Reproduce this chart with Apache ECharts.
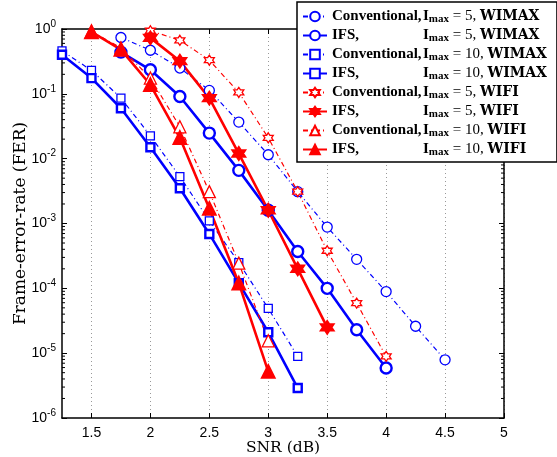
<!DOCTYPE html>
<html><head><meta charset="utf-8">
<script src="https://cdn.jsdelivr.net/npm/echarts@6/dist/echarts.min.js"></script>
<style>html,body{margin:0;padding:0;background:#fff}#c{width:557px;height:457px}</style>
</head><body><div id="c"></div>
<script>
// ---- data ----
const snrA = [1.75,2,2.25,2.5,2.75,3,3.25,3.5,3.75,4,4.25,4.5];
const convW5 = [0.74,0.47,0.25,0.113,0.0367,0.0115,0.0031,0.00088,0.00028,0.000089,0.000026,0.0000079];
const snrB = [1.75,2,2.25,2.5,2.75,3,3.25,3.5,3.75,4];
const ifsW5 = [0.44,0.235,0.091,0.0248,0.0066,0.0016,0.00037,0.0001,0.000023,0.0000059];
const snrC = [1.25,1.5,1.75,2,2.25,2.5,2.75,3,3.25];
const convW10 = [0.46,0.23,0.086,0.0225,0.0053,0.0011,0.00025,0.000049,0.0000089];
const ifsW10 = [0.40,0.175,0.06,0.015,0.0035,0.00069,0.00012,0.000021,0.0000029];
const snrD = [2,2.25,2.5,2.75,3,3.25,3.5,3.75,4];
const convF5 = [0.94,0.67,0.33,0.105,0.021,0.0031,0.00038,0.000059,0.0000089];
const snrE = [2,2.25,2.5,2.75,3,3.25,3.5];
const ifsF5 = [0.73,0.32,0.086,0.012,0.0016,0.0002,0.000025];
const snrF = [1.5,1.75,2,2.25,2.5,2.75,3];
const convF10 = [0.92,0.51,0.175,0.031,0.0031,0.000245,0.0000155];
const ifsF10 = [0.9,0.48,0.138,0.021,0.0017,0.00012,0.0000052];
const xTicks = [1.5,2,2.5,3,3.5,4,4.5,5];
const seriesNames = [
  'Conventional, Imax = 5, WIMAX','IFS, Imax = 5, WIMAX',
  'Conventional, Imax = 10, WIMAX','IFS, Imax = 10, WIMAX',
  'Conventional, Imax = 5, WIFI','IFS, Imax = 5, WIFI',
  'Conventional, Imax = 10, WIFI','IFS, Imax = 10, WIFI'];
const legendParts = [
  ['Conventional,','5','WIMAX'],['IFS,','5','WIMAX'],
  ['Conventional,','10','WIMAX'],['IFS,','10','WIMAX'],
  ['Conventional,','5','WIFI'],['IFS,','5','WIFI'],
  ['Conventional,','10','WIFI'],['IFS,','10','WIFI']];
const minorVals = [];
for (let e = -6; e < 0; e++) for (let k = 2; k <= 9; k++) minorVals.push(k * Math.pow(10, e));

// ---- styles ----
const BLUE = '#0000ff', RED = '#ff0000';
const HEX = 'path://M0,-10L2.89,-5L8.66,-5L5.77,0L8.66,5L2.89,5L0,10L-2.89,5L-8.66,5L-5.77,0L-8.66,-5L-2.89,-5Z';
const dashDot = [5,3,1,3];
function mk(name, xs, ys, color, conv, symbol, size, filled) {
  return {
    name, type: 'line', data: xs.map((x, i) => [x, ys[i]]),
    symbol, symbolSize: size, showSymbol: true,
    lineStyle: { color, width: conv ? 1.2 : 2.6, type: conv ? dashDot : 'solid' },
    itemStyle: { color: filled ? color : '#fff', borderColor: color, borderWidth: conv ? 1.3 : 2.4 },
    emphasis: { disabled: true }, z: 3
  };
}
const series = [
  mk(seriesNames[0], snrA, convW5, BLUE, true, 'circle', 10, false),
  mk(seriesNames[1], snrB, ifsW5, BLUE, false, 'circle', 11, false),
  mk(seriesNames[2], snrC, convW10, BLUE, true, 'rect', 8, false),
  mk(seriesNames[3], snrC, ifsW10, BLUE, false, 'rect', 8, false),
  mk(seriesNames[4], snrD, convF5, RED, true, HEX, 10, false),
  mk(seriesNames[5], snrE, ifsF5, RED, false, HEX, 12, true),
  mk(seriesNames[6], snrF, convF10, RED, true, 'triangle', 12, false),
  mk(seriesNames[7], snrF, ifsF10, RED, false, 'triangle', 12, true),
  {
    type: 'custom', silent: true, z: 2,
    data: minorVals.map(v => [1.25, v]),
    renderItem: function (params, api) {
      const v = api.value(1);
      const a = api.coord([1.25, v]), b = api.coord([5, v]);
      return { type: 'group', children: [
        { type: 'line', shape: { x1: a[0], y1: a[1], x2: a[0] + 3, y2: a[1] }, style: { stroke: '#000', lineWidth: 1 } },
        { type: 'line', shape: { x1: b[0] - 3, y1: b[1], x2: b[0], y2: b[1] }, style: { stroke: '#000', lineWidth: 1 } }
      ]};
    }
  }
];
const serif = 'Liberation Serif';
const serifW = 'DejaVu Serif';
const sans = 'Liberation Sans';
const chart = echarts.init(document.getElementById('c'));
chart.setOption({
  animation: false,
  backgroundColor: '#fff',
  grid: { left: 62, right: 53, top: 29, bottom: 39, outerBoundsMode: 'none', containLabel: false },
  xAxis: [{
    type: 'value', min: 1.25, max: 5,
    name: 'SNR (dB)', nameLocation: 'middle', nameGap: 22, nameMoveOverlap: false,
    nameTextStyle: { fontFamily: serifW, fontSize: 15.5, color: '#000' },
    axisLine: { lineStyle: { color: '#000', width: 1.5 } },
    axisTick: { inside: true, length: 5, customValues: xTicks, lineStyle: { color: '#000' } },
    axisLabel: { customValues: xTicks, fontFamily: sans, fontSize: 14, color: '#000', margin: 8 },
    splitLine: { show: true, lineStyle: { color: '#999', type: [1, 3], width: 1 } }
  }, {
    type: 'value', min: 1.25, max: 5, position: 'top',
    axisLine: { show: true, lineStyle: { color: '#000', width: 1.5 } },
    axisTick: { inside: true, length: 5, customValues: xTicks, lineStyle: { color: '#000' } },
    axisLabel: { show: false }, splitLine: { show: false }
  }],
  yAxis: [{
    type: 'log', logBase: 10, min: 1e-6, max: 1, interval: 1,
    name: 'Frame-error-rate (FER)', nameLocation: 'middle', nameGap: 33, nameMoveOverlap: false,
    nameTextStyle: { fontFamily: serifW, fontSize: 17, color: '#000' },
    axisLine: { show: true, lineStyle: { color: '#000', width: 1.5 } },
    axisTick: { inside: true, length: 5, lineStyle: { color: '#000' } },
    axisLabel: {
      fontFamily: sans, fontSize: 14, color: '#000', margin: 6,
      formatter: v => '10{s|' + Math.round(Math.log10(v)) + '}',
      rich: { s: { fontFamily: sans, fontSize: 10, color: '#000', padding: [0, 0, 10, 0] } }
    },
    splitLine: { show: false }
  }, {
    type: 'log', logBase: 10, min: 1e-6, max: 1, interval: 1, position: 'right',
    axisLine: { show: true, lineStyle: { color: '#000', width: 1.5 } },
    axisTick: { inside: true, length: 5, lineStyle: { color: '#000' } },
    axisLabel: { show: false }, splitLine: { show: false }
  }],
  legend: {
    data: seriesNames, orient: 'vertical', left: 297, top: 2,
    itemWidth: 24, itemHeight: 12, itemGap: 2,
    padding: [6, 10, 4, 5],
    backgroundColor: '#fff', borderColor: '#000', borderWidth: 1.5, borderRadius: 0,
    selectedMode: false, z: 10,
    formatter: function (name) {
      const p = legendParts[seriesNames.indexOf(name)];
      return '{c|' + p[0] + '}{i|I}{m|max}{n| = ' + p[1] + ', }{w|' + p[2] + '}';
    },
    textStyle: {
      fontFamily: serif, fontSize: 14, color: '#000', lineHeight: 15,
      rich: {
        c: { fontFamily: serif, fontSize: 15, fontWeight: 'bold', width: 91, color: '#000', lineHeight: 15 },
        i: { fontFamily: serif, fontSize: 15, fontWeight: 'bold', color: '#000', lineHeight: 15 },
        m: { fontFamily: serif, fontSize: 11, fontWeight: 'bold', color: '#000', padding: [6, 0, 0, 0], lineHeight: 9 },
        n: { fontFamily: serif, fontSize: 15, color: '#000', lineHeight: 15 },
        w: { fontFamily: serifW, fontSize: 14, fontWeight: 'bold', color: '#000', lineHeight: 15 }
      }
    }
  },
  series
});
</script></body></html>
